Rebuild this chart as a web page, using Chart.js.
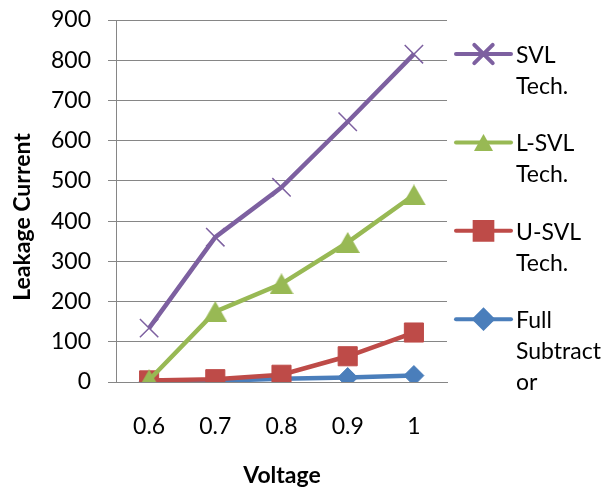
<!DOCTYPE html>
<html>
<head>
<meta charset="utf-8">
<script src="https://cdn.jsdelivr.net/npm/chart.js@4/dist/chart.umd.min.js"></script>
<style>
  html, body { margin: 0; padding: 0; background: #ffffff; }
  #wrap { width: 608px; height: 490px; }
</style>
</head>
<body>
<div id="wrap"><canvas id="c" width="608" height="490"></canvas></div>
<script>
// Supply voltage categories (V)
const voltages = ['0.6', '0.7', '0.8', '0.9', '1'];

// Leakage current per technique
const svlTech = [134, 360, 484, 647, 815];
const lSvlTech = [5, 175, 244, 347, 465];
const uSvlTech = [4, 7, 18, 64, 123];
const fullSubtractor = [2, 3, 8, 11, 16];

// Legend labels, wrapped the way they are shown
const svlLabel = ['SVL', 'Tech.'];
const lSvlLabel = ['L-SVL', 'Tech.'];
const uSvlLabel = ['U-SVL', 'Tech.'];
const fullLabel = ['Full', 'Subtract', 'or'];

// Value axis range
const yMin = 0;
const yMax = 900;
const yStep = 100;

const FONT = 'Lato, "Open Sans", sans-serif';
const GRID = '#868686';
const GREEN = '#98B954';

// Triangle marker centred on its bounding box
function triangleMarker(w, h, color) {
  const cv = document.createElement('canvas');
  cv.width = w;
  cv.height = h;
  const c = cv.getContext('2d');
  c.fillStyle = color;
  c.beginPath();
  c.moveTo(w / 2, 0);
  c.lineTo(w, h);
  c.lineTo(0, h);
  c.closePath();
  c.fill();
  return cv;
}
const triPlot = triangleMarker(24, 21, GREEN);
const triLegend = triangleMarker(19, 17, GREEN);

// Axis titles and a right-hand legend with wrapped labels
const sidePlugin = {
  id: 'sideDecor',
  afterDraw(chart) {
    const ctx = chart.ctx;
    ctx.save();
    ctx.fillStyle = '#000000';
    ctx.font = 'bold 23px ' + FONT;
    ctx.textBaseline = 'alphabetic';
    ctx.textAlign = 'center';
    ctx.fillText('Voltage', 282, 483);
    ctx.save();
    ctx.translate(30, 217);
    ctx.rotate(-Math.PI / 2);
    ctx.fillText('Leakage Current', 0, 0);
    ctx.restore();

    // legend, top to bottom
    const order = [3, 2, 1, 0];
    order.forEach((dsIndex, i) => {
      const ds = chart.data.datasets[dsIndex];
      const y = 54 + i * 88.4;
      ctx.strokeStyle = ds.borderColor;
      ctx.lineWidth = 4;
      ctx.lineCap = 'round';
      ctx.beginPath();
      ctx.moveTo(456, y);
      ctx.lineTo(511, y);
      ctx.stroke();
      ctx.fillStyle = ds.pointBackgroundColor;
      ctx.strokeStyle = ds.pointBorderColor;
      Chart.helpers.drawPoint(ctx, {
        pointStyle: ds.legendStyle || ds.pointStyle,
        radius: ds.legendRadius,
        borderWidth: ds.pointBorderWidth,
        rotation: 0
      }, 483.5, y);
      ctx.fillStyle = '#000000';
      ctx.font = '23px ' + FONT;
      ctx.textAlign = 'left';
      ds.legendLines.forEach((line, k) => {
        ctx.fillText(line, 516, y + 9 + k * 31);
      });
    });
    ctx.restore();
  }
};

function build() {
  const ctx = document.getElementById('c').getContext('2d');
  new Chart(ctx, {
    type: 'line',
    data: {
      labels: voltages,
      datasets: [
        {
          label: 'Full Subtractor',
          legendLines: fullLabel,
          data: fullSubtractor,
          borderColor: '#4A7EBB',
          backgroundColor: '#4A7EBB',
          pointBackgroundColor: '#4A7EBB',
          pointBorderColor: '#4A7EBB',
          pointStyle: 'rectRot',
          pointRadius: 10,
          legendRadius: 9,
          pointBorderWidth: 1,
          borderWidth: 4.5,
          order: 4
        },
        {
          label: 'U-SVL Tech.',
          legendLines: uSvlLabel,
          data: uSvlTech,
          borderColor: '#BE4B48',
          backgroundColor: '#BE4B48',
          pointBackgroundColor: '#BE4B48',
          pointBorderColor: '#BE4B48',
          pointStyle: 'rect',
          pointRadius: 13.5,
          legendRadius: 12.5,
          pointBorderWidth: 1,
          borderWidth: 4.5,
          order: 3
        },
        {
          label: 'L-SVL Tech.',
          legendLines: lSvlLabel,
          data: lSvlTech,
          borderColor: GREEN,
          backgroundColor: GREEN,
          pointBackgroundColor: GREEN,
          pointBorderColor: GREEN,
          pointStyle: triPlot,
          legendStyle: triLegend,
          pointRadius: 12,
          legendRadius: 10,
          pointBorderWidth: 0,
          borderWidth: 4.5,
          order: 2
        },
        {
          label: 'SVL Tech.',
          legendLines: svlLabel,
          data: svlTech,
          borderColor: '#7D60A0',
          backgroundColor: '#7D60A0',
          pointBackgroundColor: '#7D60A0',
          pointBorderColor: '#7D60A0',
          pointStyle: 'crossRot',
          pointRadius: 13,
          legendRadius: 13,
          pointBorderWidth: 1.5,
          borderWidth: 4.5,
          order: 1
        }
      ]
    },
    options: {
      responsive: false,
      animation: false,
      layout: { padding: { top: 20, right: 161, bottom: 0, left: 0 } },
      plugins: {
        legend: { display: false },
        tooltip: { enabled: false },
        title: { display: false }
      },
      elements: { line: { tension: 0 } },
      scales: {
        x: {
          type: 'category',
          offset: true,
          grid: { display: true, drawOnChartArea: false, drawTicks: false, color: GRID },
          border: { display: true, color: GRID, width: 1 },
          ticks: { color: '#000000', font: { family: FONT, size: 23 }, padding: 31, maxRotation: 0 },
          afterFit(scale) {
            scale.height = 108;
            scale.paddingLeft = 0;
            scale.paddingRight = 0;
          }
        },
        y: {
          min: yMin,
          max: yMax,
          grid: { color: GRID, lineWidth: 1, tickLength: 8, drawTicks: true },
          border: { display: true, color: GRID, width: 1 },
          ticks: { stepSize: yStep, color: '#000000', font: { family: FONT, size: 23 }, padding: 17 },
          afterFit(scale) {
            scale.width = 116;
            scale.paddingTop = 0;
            scale.paddingBottom = 0;
          }
        }
      }
    },
    plugins: [sidePlugin]
  });
}

if (document.fonts && document.fonts.load) {
  Promise.all([
    document.fonts.load('23px Lato'),
    document.fonts.load('bold 23px Lato')
  ]).then(build, build);
} else {
  build();
}
</script>
</body>
</html>
